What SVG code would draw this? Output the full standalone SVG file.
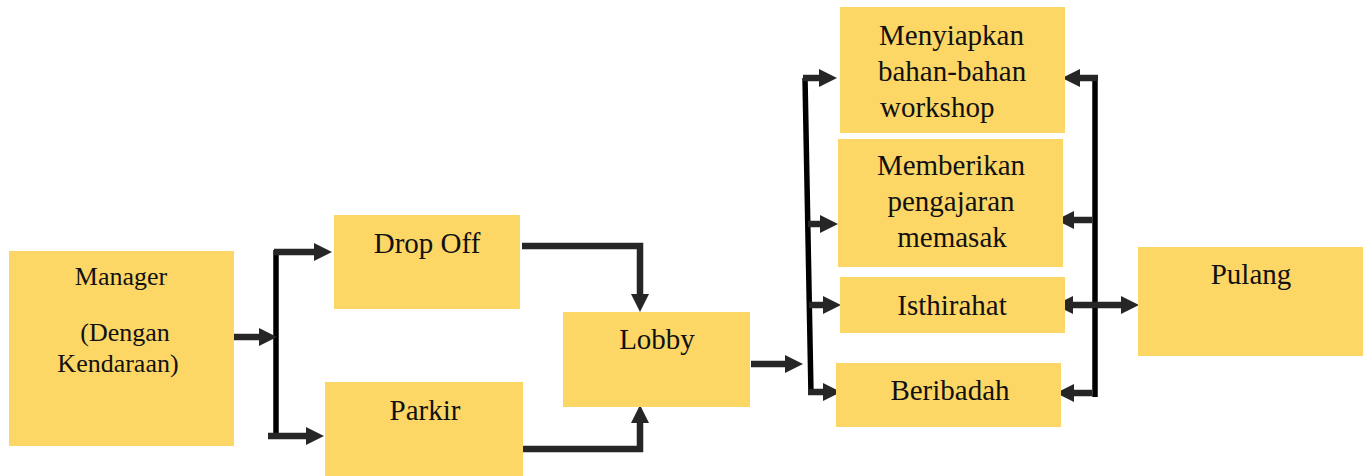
<svg xmlns="http://www.w3.org/2000/svg" width="1370" height="476" viewBox="0 0 1370 476">
  <style>
    .box { fill: #FDD766; }
    .lbl { font-family: 'Liberation Serif', 'Times New Roman', serif; font-size: 29px; fill: #111; }
    .mid { text-anchor: middle; }
    .small { font-size: 26px; }
    .arrow { fill: none; stroke: #262626; stroke-width: 6.5; stroke-linejoin: miter; }
    .bus { fill: none; stroke: #000; stroke-width: 5.5; }
  </style>
  <defs>
    <marker id="head" markerUnits="userSpaceOnUse" markerWidth="18" markerHeight="18" refX="0" refY="9" orient="auto-start-reverse" viewBox="0 0 18 18">
      <path d="M0,0 L18,9 L0,18 z" fill="#262626"/>
    </marker>
  </defs>

  <rect width="1370" height="476" fill="#fff"/>

  <!-- connectors: three black bus bars plus dark arrows -->
  <g id="connectors">
    <path class="bus" d="M276,250 V439"/>
    <path class="bus" d="M805,78 L811,394"/>
    <path class="bus" d="M1095,76 V397"/>

    <path class="arrow" d="M229,337 H259" marker-end="url(#head)"/>
    <path class="arrow" d="M274,252 H314" marker-end="url(#head)"/>
    <path class="arrow" d="M268,436 H306" marker-end="url(#head)"/>
    <path class="arrow" d="M522,246 H640 V294" marker-end="url(#head)"/>
    <path class="arrow" d="M521,449 H640 V423" marker-end="url(#head)"/>
    <path class="arrow" d="M751,364 H785" marker-end="url(#head)"/>

    <path class="arrow" d="M803,78 H819" marker-end="url(#head)"/>
    <path class="arrow" d="M808,224 H820" marker-end="url(#head)"/>
    <path class="arrow" d="M809,305 H823" marker-end="url(#head)"/>
    <path class="arrow" d="M808,392 H823" marker-end="url(#head)"/>

    <path class="arrow" d="M1098,78 H1080" marker-end="url(#head)"/>
    <path class="arrow" d="M1092,220 H1074" marker-end="url(#head)"/>
    <path class="arrow" d="M1073,305 H1121" marker-start="url(#head)" marker-end="url(#head)"/>
    <path class="arrow" d="M1092,393 H1074" marker-end="url(#head)"/>
  </g>

  <g id="manager">
    <rect class="box" x="9" y="251" width="225" height="195"/>
    <text class="lbl small mid" x="121" y="285">Manager</text>
    <text class="lbl small mid" x="125" y="341">(Dengan</text>
    <text class="lbl small mid" x="118" y="372">Kendaraan)</text>
  </g>

  <g id="drop-off">
    <rect class="box" x="334" y="215" width="186" height="94"/>
    <text class="lbl mid" x="427" y="253">Drop Off</text>
  </g>

  <g id="parkir">
    <rect class="box" x="325" y="382" width="198" height="94"/>
    <text class="lbl mid" x="425" y="420">Parkir</text>
  </g>

  <g id="lobby">
    <rect class="box" x="563" y="312" width="187" height="95"/>
    <text class="lbl mid" x="657" y="349">Lobby</text>
  </g>

  <g id="menyiapkan">
    <rect class="box" x="840" y="7" width="225" height="126"/>
    <text class="lbl" x="879" y="45">Menyiapkan</text>
    <text class="lbl" x="878" y="81">bahan-bahan</text>
    <text class="lbl" x="880" y="117">workshop</text>
  </g>

  <g id="memberikan">
    <rect class="box" x="838" y="139" width="225" height="128"/>
    <text class="lbl mid" x="951" y="175">Memberikan</text>
    <text class="lbl mid" x="951" y="211">pengajaran</text>
    <text class="lbl mid" x="952" y="247">memasak</text>
  </g>

  <g id="isthirahat">
    <rect class="box" x="840" y="277" width="225" height="56"/>
    <text class="lbl mid" x="952" y="315">Isthirahat</text>
  </g>

  <g id="beribadah">
    <rect class="box" x="836" y="363" width="225" height="64"/>
    <text class="lbl mid" x="950" y="400">Beribadah</text>
  </g>

  <g id="pulang">
    <rect class="box" x="1138" y="247" width="225" height="109"/>
    <text class="lbl mid" x="1251" y="284">Pulang</text>
  </g>
</svg>
